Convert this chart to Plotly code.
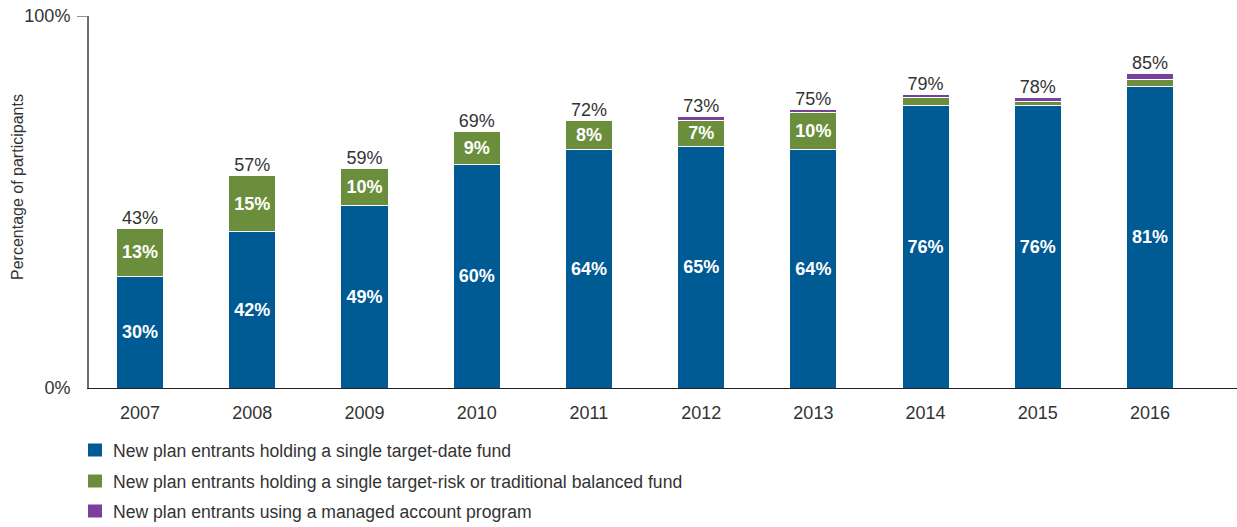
import plotly.graph_objects as go

# ── data ─────────────────────────────────────────────────────────────────────
years = ["2007", "2008", "2009", "2010", "2011", "2012", "2013", "2014", "2015", "2016"]
target_date = [30, 42, 49, 60, 64, 65, 64, 76, 76, 81]
target_risk = [13, 15, 10, 9, 8, 7, 10, 2, 1, 2]
managed = [0, 0, 0, 0, 0, 1, 1, 1, 1, 1.5]
totals = [43, 57, 59, 69, 72, 73, 75, 79, 78, 85]
risk_labels = ["13%", "15%", "10%", "9%", "8%", "7%", "10%", "", "", ""]
series_names = [
    "New plan entrants holding a single target-date fund",
    "New plan entrants holding a single target-risk or traditional balanced fund",
    "New plan entrants using a managed account program",
]

BLUE = "#005A94"
GREEN = "#6A8E3C"
PURPLE = "#7B3F9E"
TEXT = "#333333"
FONT = "Liberation Sans, Arial, sans-serif"

# plot area in pixels (used to place the hand-drawn legend)
L, R, T, B = 89, 1237, 16, 388
def px_x(px): return (px - L) / (R - L)
def px_y(py): return (B - py) / (B - T)

fig = go.Figure()

fig.add_trace(go.Bar(
    x=years, y=target_date, name=series_names[0],
    marker=dict(color=BLUE, line=dict(color="white", width=1)),
    text=[f"{v}%" for v in target_date], textposition="inside", insidetextanchor="middle",
    textfont=dict(color="white", size=18, family=FONT, weight="bold"),
))
fig.add_trace(go.Bar(
    x=years, y=target_risk, name=series_names[1],
    marker=dict(color=GREEN, line=dict(color="white", width=1)),
    text=risk_labels, textposition="inside", insidetextanchor="middle",
    textfont=dict(color="white", size=18, family=FONT, weight="bold"),
))
fig.add_trace(go.Bar(
    x=years, y=managed, name=series_names[2],
    marker=dict(color=PURPLE, line=dict(color="white", width=1)),
    textposition="none",
))

# totals above each stack
tops = [a + b + c for a, b, c in zip(target_date, target_risk, managed)]
fig.add_trace(go.Scatter(
    x=years, y=tops, mode="text", text=[f"{t}%" for t in totals],
    textposition="top center", textfont=dict(color=TEXT, size=18, family=FONT),
    showlegend=False, hoverinfo="skip",
))

fig.update_layout(
    width=1237, height=527,
    barmode="stack", bargap=0.58,
    paper_bgcolor="white", plot_bgcolor="white",
    font=dict(family=FONT, color=TEXT, size=18),
    margin=dict(l=L, r=1237 - R, t=T, b=527 - B),
    showlegend=False,
    uniformtext=dict(mode="hide", minsize=12),
)

fig.update_xaxes(
    range=[-0.455, 9.775], showline=True, linecolor="#222222", linewidth=1,
    ticks="", ticklabelstandoff=8, tickfont=dict(size=18, color=TEXT),
    showgrid=False, zeroline=False, automargin=False,
)
fig.update_yaxes(
    range=[0, 100], tickvals=[0, 100], ticktext=["0%", "100%"],
    showline=True, linecolor="#6f6f6f", linewidth=2,
    ticks="", ticklabelstandoff=13, tickfont=dict(size=18, color=TEXT),
    showgrid=False, zeroline=False, automargin=False,
)

# 100% tick mark only
fig.add_shape(type="line", xref="paper", yref="y", x0=px_x(77), x1=0, y0=100, y1=100,
              line=dict(color="#6f6f6f", width=1.5))

fig.add_annotation(
    text="Percentage of participants", xref="paper", yref="paper",
    x=px_x(17), y=px_y(187), xanchor="center", yanchor="middle",
    textangle=-90, showarrow=False,
    font=dict(size=16, color=TEXT, family=FONT),
)

# legend below the chart
legend_rows = [450, 481, 511]
for name, color, cy in zip(series_names, [BLUE, GREEN, PURPLE], legend_rows):
    fig.add_shape(type="rect", xref="paper", yref="paper",
                  x0=px_x(88), x1=px_x(102), y0=px_y(cy + 6.5), y1=px_y(cy - 6.5),
                  fillcolor=color, line=dict(width=0))
    fig.add_annotation(text=name, xref="paper", yref="paper",
                       x=px_x(111), y=px_y(cy + 1), xanchor="left", yanchor="middle",
                       showarrow=False, font=dict(size=17.6, color=TEXT, family=FONT))

fig.write_html("out.html", config={"displayModeBar": False},
               post_script="document.body.style.margin='0';")
